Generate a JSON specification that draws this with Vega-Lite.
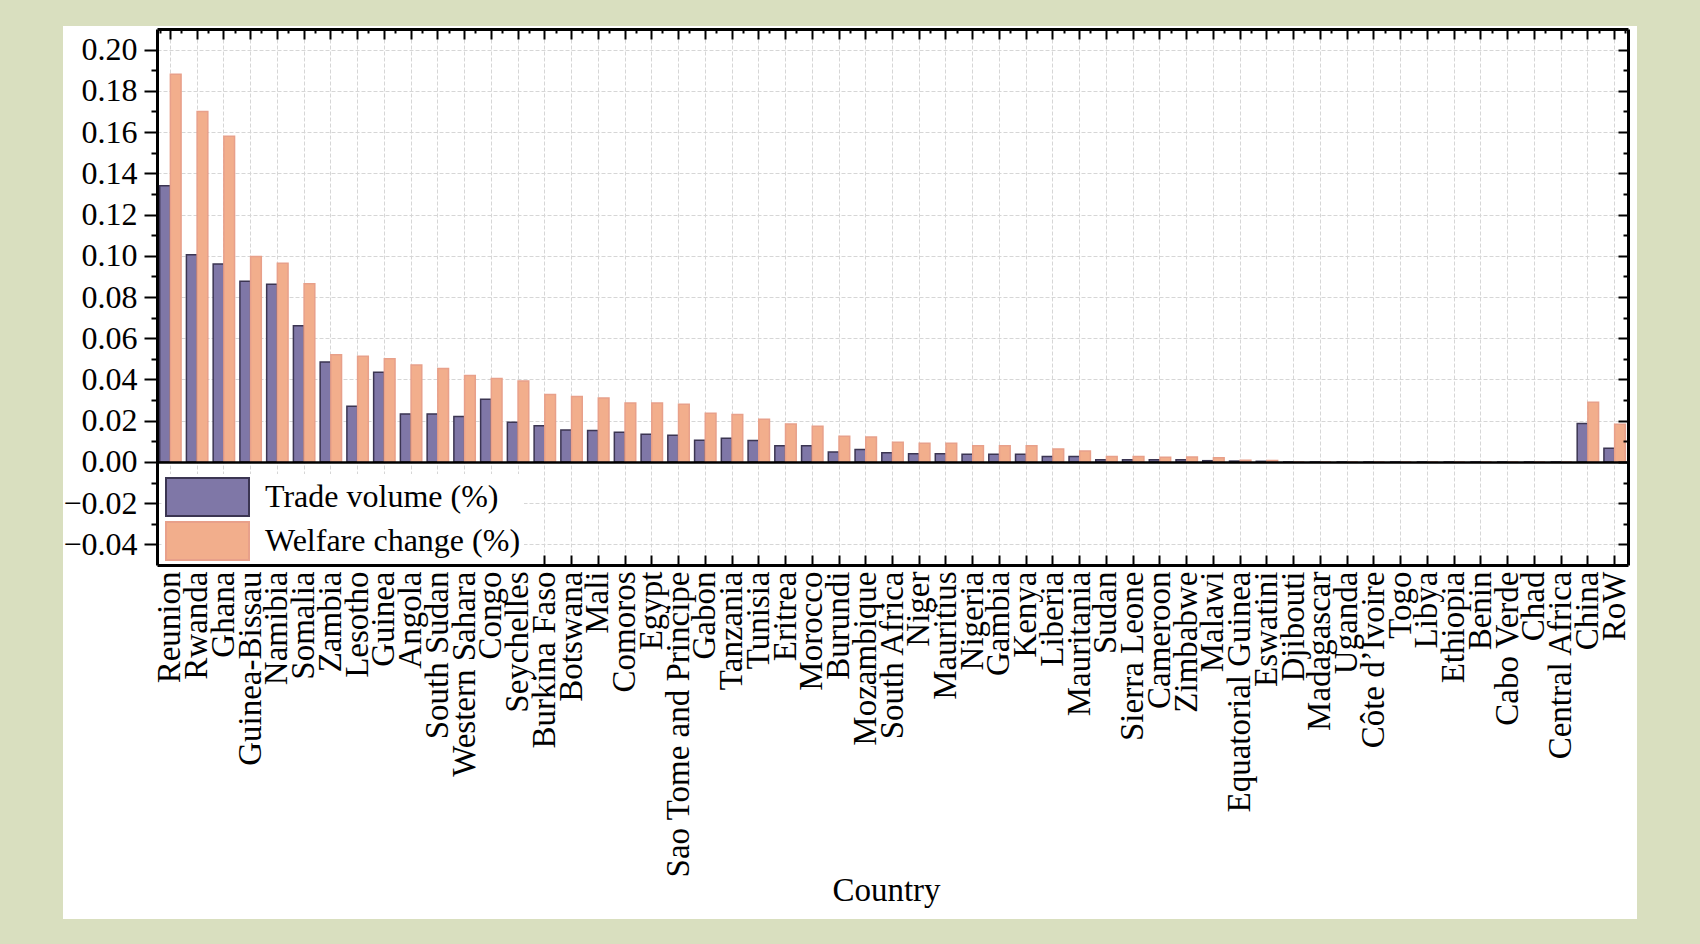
{
  "$schema": "https://vega.github.io/schema/vega-lite/v6.json",
  "width": 1574,
  "height": 893,
  "autosize": {"type": "none"},
  "padding": {"left": 63, "top": 26, "right": 63, "bottom": 25},
  "background": "#d9dfbf",
  "data": {
    "values": [
      {"country": "Reunion", "trade": 0.134, "welfare": 0.188},
      {"country": "Rwanda", "trade": 0.1005, "welfare": 0.170},
      {"country": "Ghana", "trade": 0.096, "welfare": 0.158},
      {"country": "Guinea-Bissau", "trade": 0.0877, "welfare": 0.0997},
      {"country": "Namibia", "trade": 0.0862, "welfare": 0.0964},
      {"country": "Somalia", "trade": 0.066, "welfare": 0.0864},
      {"country": "Zambia", "trade": 0.0485, "welfare": 0.052},
      {"country": "Lesotho", "trade": 0.027, "welfare": 0.0513},
      {"country": "Guinea", "trade": 0.0435, "welfare": 0.050},
      {"country": "Angola", "trade": 0.0233, "welfare": 0.047},
      {"country": "South Sudan", "trade": 0.0233, "welfare": 0.0453},
      {"country": "Western Sahara", "trade": 0.022, "welfare": 0.0419},
      {"country": "Congo", "trade": 0.0304, "welfare": 0.0405},
      {"country": "Seychelles", "trade": 0.0193, "welfare": 0.0393},
      {"country": "Burkina Faso", "trade": 0.0176, "welfare": 0.0327},
      {"country": "Botswana", "trade": 0.0155, "welfare": 0.0317},
      {"country": "Mali", "trade": 0.0152, "welfare": 0.031},
      {"country": "Comoros", "trade": 0.0144, "welfare": 0.0286},
      {"country": "Egypt", "trade": 0.0134, "welfare": 0.0286},
      {"country": "Sao Tome and Principe", "trade": 0.0129, "welfare": 0.028},
      {"country": "Gabon", "trade": 0.0105, "welfare": 0.0236},
      {"country": "Tanzania", "trade": 0.0115, "welfare": 0.023},
      {"country": "Tunisia", "trade": 0.0104, "welfare": 0.0207},
      {"country": "Eritrea", "trade": 0.0079, "welfare": 0.0184},
      {"country": "Morocco", "trade": 0.0079, "welfare": 0.0173},
      {"country": "Burundi", "trade": 0.0048, "welfare": 0.0124},
      {"country": "Mozambique", "trade": 0.006, "welfare": 0.0121},
      {"country": "South Africa", "trade": 0.0045, "welfare": 0.0095},
      {"country": "Niger", "trade": 0.004, "welfare": 0.009},
      {"country": "Mauritius", "trade": 0.004, "welfare": 0.009},
      {"country": "Nigeria", "trade": 0.0037, "welfare": 0.0079},
      {"country": "Gambia", "trade": 0.0037, "welfare": 0.0078},
      {"country": "Kenya", "trade": 0.0037, "welfare": 0.0078},
      {"country": "Liberia", "trade": 0.0026, "welfare": 0.0063},
      {"country": "Mauritania", "trade": 0.0026, "welfare": 0.0053},
      {"country": "Sudan", "trade": 0.0011, "welfare": 0.0026},
      {"country": "Sierra Leone", "trade": 0.0011, "welfare": 0.0026},
      {"country": "Cameroon", "trade": 0.001, "welfare": 0.0023},
      {"country": "Zimbabwe", "trade": 0.001, "welfare": 0.0024},
      {"country": "Malawi", "trade": 0.0006, "welfare": 0.002},
      {"country": "Equatorial Guinea", "trade": 0.0004, "welfare": 0.0008},
      {"country": "Eswatini", "trade": 0.0003, "welfare": 0.0007},
      {"country": "Djibouti", "trade": 0, "welfare": 0},
      {"country": "Madagascar", "trade": 0, "welfare": 0},
      {"country": "Uganda", "trade": 0, "welfare": 0},
      {"country": "Côte d’Ivoire", "trade": 0, "welfare": 0},
      {"country": "Togo", "trade": 0, "welfare": 0},
      {"country": "Libya", "trade": 0, "welfare": 0},
      {"country": "Ethiopia", "trade": 0, "welfare": 0},
      {"country": "Benin", "trade": 0, "welfare": 0},
      {"country": "Cabo Verde", "trade": 0, "welfare": 0},
      {"country": "Chad", "trade": 0, "welfare": 0},
      {"country": "Central Africa", "trade": 0, "welfare": 0},
      {"country": "China", "trade": 0.0186, "welfare": 0.029},
      {"country": "RoW", "trade": 0.0066, "welfare": 0.0183}
    ]
  },
  "transform": [{"fold": ["trade", "welfare"], "as": ["key", "value"]}],
  "resolve": {"axis": {"x": "independent", "y": "independent"}},
  "layer": [
    {
      "mark": {"type": "bar", "strokeWidth": 1.5},
      "encoding": {
        "x": {
          "field": "country", "type": "nominal", "sort": null,
          "scale": {"range": [94, 1565], "paddingInner": 0.2, "paddingOuter": 0.1},
          "axis": {
            "orient": "bottom", "offset": -354, "title": "Country",
            "ticks": false, "grid": false,
            "domain": true, "domainColor": "black", "domainWidth": 3,
            "labelAngle": 270, "labelAlign": "right", "labelBaseline": "middle",
            "labelPadding": 6, "labelFontSize": 33, "labelFont": "Liberation Serif",
            "labelColor": "black", "labelOverlap": false, "labelLimit": 500,
            "titleFont": "Liberation Serif", "titleFontSize": 33, "titleFontWeight": "normal",
            "titleColor": "black", "titleX": 823, "titleAlign": "center",
            "titleY": 335, "titleBaseline": "alphabetic", "zindex": 1
          }
        },
        "xOffset": {"field": "key", "type": "nominal", "sort": ["trade", "welfare"]},
        "y": {
          "field": "value", "type": "quantitative",
          "scale": {"domain": [-0.05, 0.21], "range": [539, 3], "nice": false, "zero": false},
          "axis": {
            "orient": "left", "offset": -94, "title": null,
            "values": [-0.04, -0.02, 0, 0.02, 0.04, 0.06, 0.08, 0.1, 0.12, 0.14, 0.16, 0.18, 0.2],
            "format": ".2f", "tickSize": 13, "tickWidth": 2, "tickColor": "black",
            "domain": true, "domainColor": "black", "domainWidth": 3,
            "labelPadding": 7, "labelFontSize": 32, "labelFont": "Liberation Serif", "labelColor": "black",
            "grid": true, "gridColor": "#d6d6d6", "gridDash": [4, 2], "gridWidth": 1, "zindex": 0
          }
        },
        "color": {
          "field": "key", "type": "nominal", "sort": ["trade", "welfare"],
          "scale": {"domain": ["trade", "welfare"], "range": ["#7f77a7", "#f2ae8c"]},
          "legend": {
            "orient": "none", "legendX": 99, "legendY": 448, "title": null, "zindex": 2,
            "fillColor": "white", "padding": 3,
            "symbolType": "M-1,-0.458H1V0.458H-1Z", "symbolSize": 6889,
            "symbolStrokeWidth": 2, "symbolOpacity": 1, "symbolOffset": 0,
            "clipHeight": 40, "rowPadding": 4, "labelOffset": 15,
            "labelFontSize": 32, "labelFont": "Liberation Serif", "labelColor": "black", "labelLimit": 500,
            "labelExpr": "datum.value == 'trade' ? 'Trade volume (%)' : 'Welfare change (%)'",
            "encode": {"symbols": {"update": {"stroke": {"signal": "datum.value == 'trade' ? '#3b3552' : '#e8a08a'"}}}}
          }
        },
        "stroke": {
          "field": "key", "type": "nominal",
          "scale": {"domain": ["trade", "welfare"], "range": ["#3b3552", "#e8a08a"]},
          "legend": null
        }
      }
    },
    {
      "transform": [{"filter": "false"}],
      "mark": "bar",
      "encoding": {
        "x": {
          "field": "country", "type": "nominal", "sort": null,
          "axis": {"orient": "bottom", "offset": -364, "title": null, "tickSize": 10, "tickWidth": 2, "tickColor": "black",
                   "labels": false, "domain": false, "grid": false, "zindex": 1}
        },
        "y": {
          "field": "value", "type": "quantitative",
          "axis": {"orient": "left", "offset": -94, "title": null,
                   "values": [-0.03, -0.01, 0.01, 0.03, 0.05, 0.07, 0.09, 0.11, 0.13, 0.15, 0.17, 0.19],
                   "tickSize": 6, "tickWidth": 2, "tickColor": "black",
                   "labels": false, "domain": false, "grid": false, "zindex": 1}
        }
      }
    },
    {
      "transform": [{"filter": "false"}],
      "mark": "bar",
      "encoding": {
        "x": {
          "field": "country", "type": "nominal", "sort": null,
          "axis": {"orient": "top", "offset": -3, "title": null, "ticks": false, "labels": false,
                   "domain": true, "domainColor": "black", "domainWidth": 3,
                   "grid": true, "gridColor": "#d6d6d6", "gridDash": [4, 2], "gridWidth": 1, "zindex": 0}
        },
        "y": {
          "field": "value", "type": "quantitative",
          "axis": {"orient": "left", "offset": -94, "title": null, "values": [0],
                   "ticks": false, "labels": false, "domain": false,
                   "grid": true, "gridColor": "black", "gridWidth": 2.5, "zindex": 1}
        }
      }
    },
    {
      "transform": [{"filter": "false"}],
      "mark": "bar",
      "encoding": {
        "x": {
          "field": "country", "type": "nominal", "sort": null,
          "axis": {"orient": "top", "offset": -13, "title": null, "tickSize": 10, "tickWidth": 2, "tickColor": "black",
                   "labels": false, "domain": false, "grid": false, "zindex": 1}
        },
        "y": {
          "field": "value", "type": "quantitative",
          "axis": {"orient": "right", "offset": -9, "title": null,
                   "values": [-0.04, -0.02, 0, 0.02, 0.04, 0.06, 0.08, 0.1, 0.12, 0.14, 0.16, 0.18, 0.2],
                   "tickSize": -10, "tickWidth": 2, "tickColor": "black",
                   "labels": false, "domain": true, "domainColor": "black", "domainWidth": 3,
                   "grid": false, "zindex": 1}
        }
      }
    },
    {
      "transform": [{"filter": "false"}],
      "mark": "bar",
      "encoding": {
        "x": {
          "field": "country", "type": "nominal", "sort": null,
          "axis": {"orient": "top", "offset": -7, "title": null, "tickSize": 4, "tickWidth": 2, "tickColor": "black",
                   "tickBand": "extent", "labels": false, "domain": false, "grid": false, "zindex": 1}
        },
        "y": {
          "field": "value", "type": "quantitative",
          "axis": {"orient": "right", "offset": -9, "title": null,
                   "values": [-0.03, -0.01, 0.01, 0.03, 0.05, 0.07, 0.09, 0.11, 0.13, 0.15, 0.17, 0.19],
                   "tickSize": -5, "tickWidth": 2, "tickColor": "black",
                   "labels": false, "domain": false, "grid": false, "zindex": 1}
        }
      }
    }
  ],
  "config": {
    "font": "Liberation Serif",
    "view": {"stroke": null, "fill": "white"}
  }
}
